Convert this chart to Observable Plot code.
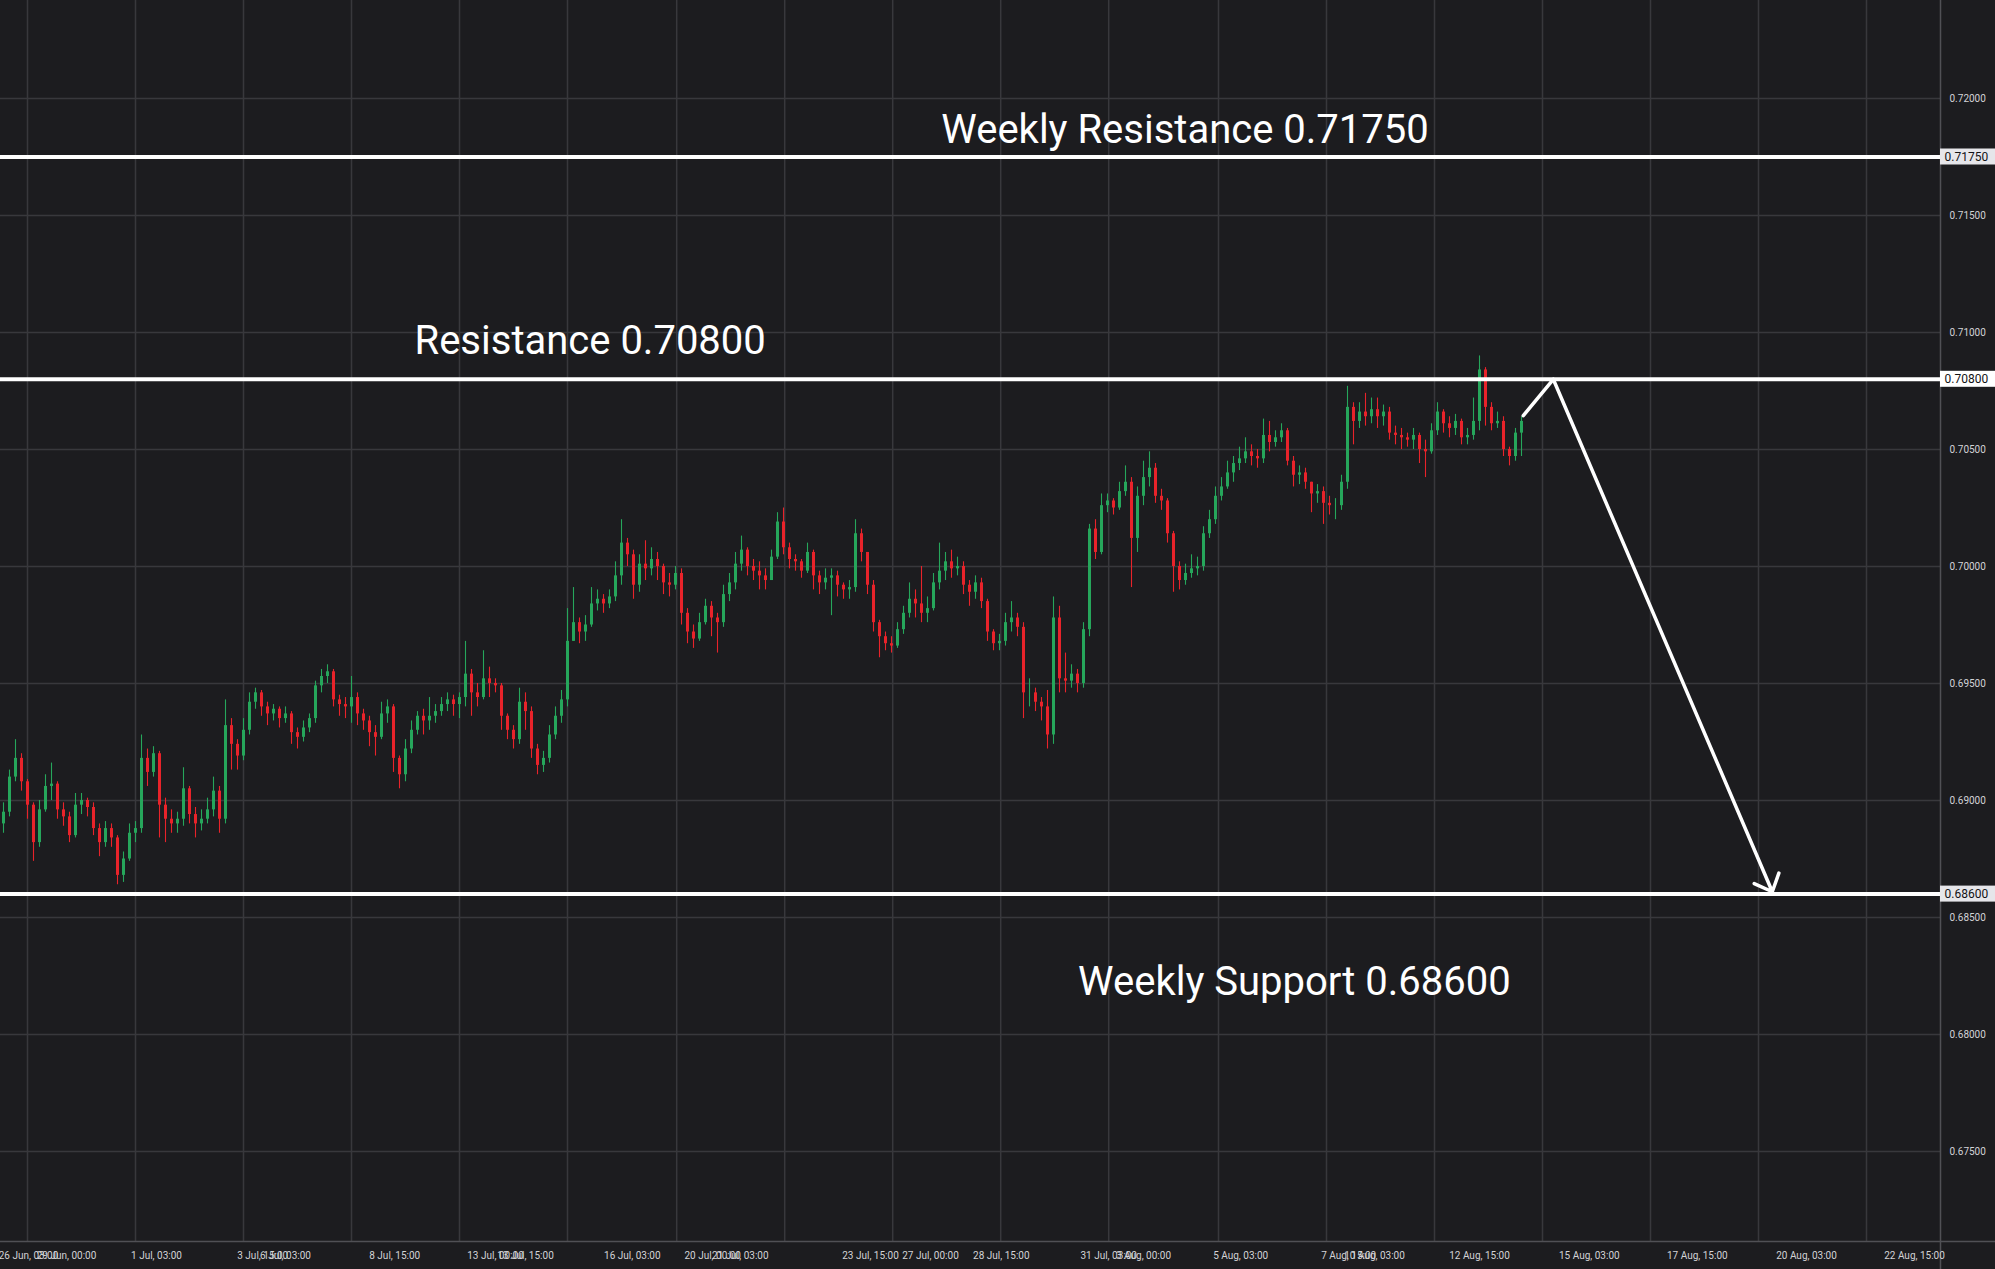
<!DOCTYPE html>
<html>
<head>
<meta charset="utf-8">
<script src="https://cdn.jsdelivr.net/npm/d3@7"></script>
<script src="https://cdn.jsdelivr.net/npm/@observablehq/plot@0.6"></script>
<style>
  html, body { margin: 0; padding: 0; background: #1c1c1f; }
  #chart { width: 1995px; height: 1269px; overflow: hidden; }
</style>
</head>
<body>
<div id="chart"></div>
<script>
// ---- Data (hourly-style candles, compressed into slots) ----
const firstOpen = 0.6890;
const closes = [
  0.6895,0.6910,0.6918,0.6908,0.6898,0.6882,0.6896,0.6906,0.6907,0.6896,
  0.6893,0.6885,0.6898,0.6900,0.6897,0.6888,0.6882,0.6888,0.6884,0.6868,
  0.6875,0.6886,0.6888,0.6918,0.6912,0.6920,0.6898,0.6892,0.6890,0.6892,
  0.6905,0.6894,0.6890,0.6892,0.6896,0.6904,0.6892,0.6932,0.6924,0.6919,
  0.6930,0.6942,0.6946,0.6940,0.6937,0.6939,0.6935,0.6937,0.6929,0.6927,
  0.6931,0.6935,0.6949,0.6953,0.6955,0.6943,0.6941,0.6940,0.6944,0.6937,
  0.6934,0.6929,0.6927,0.6937,0.6940,0.6918,0.6911,0.6922,0.6930,0.6936,
  0.6934,0.6936,0.6938,0.6941,0.6943,0.6941,0.6944,0.6954,0.6946,0.6944,
  0.6952,0.6950,0.6949,0.6936,0.6930,0.6926,0.6942,0.6938,0.6922,0.6915,
  0.6918,0.6928,0.6936,0.6943,0.6968,0.6976,0.6972,0.6975,0.6984,0.6986,
  0.6984,0.6987,0.6996,0.7010,0.7005,0.6992,0.7001,0.6999,0.7003,0.7000,
  0.6993,0.6992,0.6997,0.6980,0.6972,0.6969,0.6976,0.6983,0.6978,0.6976,
  0.6988,0.6993,0.7001,0.7007,0.7000,0.6998,0.6996,0.6994,0.7004,0.7019,
  0.7008,0.7003,0.7002,0.6998,0.7006,0.6996,0.6993,0.6995,0.6996,0.6992,
  0.6990,0.6991,0.7014,0.7006,0.6992,0.6976,0.6970,0.6967,0.6966,0.6973,
  0.6980,0.6986,0.6984,0.6980,0.6982,0.6993,0.6998,0.7002,0.6999,0.7000,
  0.6992,0.6989,0.6993,0.6985,0.6972,0.6967,0.6968,0.6976,0.6978,0.6974,
  0.6946,0.6946,0.6942,0.6940,0.6928,0.6978,0.6952,0.6951,0.6954,0.6950,
  0.6973,0.7016,0.7006,0.7026,0.7028,0.7025,0.7032,0.7036,0.7012,0.7030,
  0.7038,0.7042,0.7030,0.7028,0.7014,0.7000,0.6994,0.6997,0.6999,0.7000,
  0.7014,0.7020,0.7030,0.7034,0.7040,0.7044,0.7046,0.7049,0.7047,0.7046,
  0.7056,0.7053,0.7055,0.7058,0.7045,0.7039,0.7040,0.7036,0.7031,0.7032,
  0.7027,0.7026,0.7026,0.7036,0.7068,0.7062,0.7066,0.7064,0.7067,0.7064,
  0.7066,0.7057,0.7056,0.7055,0.7054,0.7056,0.7050,0.7049,0.7058,0.7066,
  0.7061,0.7059,0.7062,0.7055,0.7056,0.7062,0.7084,0.7068,0.7061,0.7062,
  0.7050,0.7047,0.7057,0.7062
];
const highs = [
  0.6899,0.6913,0.6926,0.6920,0.6909,0.6899,0.6900,0.6911,0.6916,0.6908,
  0.6899,0.6895,0.6903,0.6903,0.6901,0.6899,0.6890,0.6891,0.6890,0.6885,
  0.6878,0.6890,0.6891,0.6928,0.6922,0.6923,0.6921,0.6901,0.6896,0.6895,
  0.6914,0.6906,0.6897,0.6896,0.6901,0.6910,0.6906,0.6943,0.6935,0.6926,
  0.6935,0.6946,0.6948,0.6947,0.6942,0.6941,0.6940,0.6940,0.6938,0.6931,
  0.6934,0.6937,0.6951,0.6956,0.6958,0.6956,0.6945,0.6944,0.6953,0.6946,
  0.6939,0.6936,0.6932,0.6942,0.6943,0.6941,0.6919,0.6926,0.6934,0.6938,
  0.6939,0.6944,0.6941,0.6944,0.6946,0.6945,0.6946,0.6968,0.6956,0.6950,
  0.6964,0.6957,0.6952,0.6950,0.6937,0.6932,0.6948,0.6946,0.6940,0.6924,
  0.6921,0.6932,0.6940,0.6947,0.6982,0.6991,0.6978,0.6979,0.6991,0.6990,
  0.6988,0.6990,0.7002,0.7020,0.7012,0.7007,0.7005,0.7011,0.7008,0.7006,
  0.7001,0.6997,0.7000,0.6999,0.6982,0.6975,0.6980,0.6986,0.6985,0.6980,
  0.6992,0.6997,0.7006,0.7013,0.7008,0.7003,0.7002,0.6999,0.7007,0.7023,
  0.7025,0.7010,0.7005,0.7003,0.7010,0.7007,0.6998,0.6999,0.6999,0.6998,
  0.6993,0.6994,0.7020,0.7016,0.7006,0.6994,0.6977,0.6972,0.6970,0.6976,
  0.6983,0.6993,0.6990,0.7000,0.6987,0.6997,0.7010,0.7006,0.7007,0.7004,
  0.7002,0.6994,0.6996,0.6995,0.6986,0.6973,0.6971,0.6980,0.6985,0.6980,
  0.6976,0.6952,0.6948,0.6944,0.6947,0.6987,0.6983,0.6963,0.6958,0.6956,
  0.6976,0.7018,0.7020,0.7031,0.7031,0.7029,0.7036,0.7043,0.7038,0.7034,
  0.7045,0.7049,0.7044,0.7033,0.7029,0.7015,0.7002,0.7001,0.7005,0.7004,
  0.7017,0.7024,0.7034,0.7038,0.7045,0.7047,0.7051,0.7055,0.7052,0.7050,
  0.7063,0.7062,0.7058,0.7061,0.7059,0.7047,0.7043,0.7042,0.7036,0.7035,
  0.7034,0.7030,0.7029,0.7039,0.7077,0.7070,0.7070,0.7074,0.7072,0.7072,
  0.7069,0.7068,0.7060,0.7059,0.7057,0.7059,0.7057,0.7054,0.7061,0.7070,
  0.7067,0.7064,0.7065,0.7063,0.7059,0.7072,0.7090,0.7085,0.7070,0.7066,
  0.7064,0.7051,0.7059,0.7064
];
const lows = [
  0.6886,0.6893,0.6908,0.6904,0.6892,0.6874,0.6880,0.6895,0.6900,0.6892,
  0.6889,0.6882,0.6884,0.6894,0.6893,0.6885,0.6876,0.6880,0.6880,0.6864,
  0.6865,0.6874,0.6882,0.6886,0.6906,0.6910,0.6884,0.6882,0.6886,0.6886,
  0.6889,0.6890,0.6884,0.6887,0.6890,0.6893,0.6886,0.6890,0.6913,0.6913,
  0.6917,0.6928,0.6939,0.6936,0.6932,0.6934,0.6931,0.6933,0.6924,0.6922,
  0.6925,0.6929,0.6933,0.6946,0.6950,0.6940,0.6936,0.6935,0.6933,0.6932,
  0.6930,0.6923,0.6919,0.6926,0.6933,0.6912,0.6905,0.6908,0.6920,0.6928,
  0.6928,0.6930,0.6933,0.6936,0.6938,0.6936,0.6935,0.6940,0.6936,0.6940,
  0.6943,0.6944,0.6946,0.6930,0.6926,0.6922,0.6924,0.6930,0.6918,0.6911,
  0.6912,0.6916,0.6926,0.6933,0.6940,0.6968,0.6967,0.6968,0.6974,0.6981,
  0.6980,0.6982,0.6985,0.6992,0.7000,0.6986,0.6989,0.6994,0.6996,0.6994,
  0.6988,0.6987,0.6990,0.6975,0.6967,0.6965,0.6968,0.6975,0.6970,0.6963,
  0.6974,0.6985,0.6990,0.6998,0.6996,0.6994,0.6990,0.6990,0.6995,0.7003,
  0.7005,0.6999,0.6998,0.6995,0.6997,0.6990,0.6988,0.6990,0.6979,0.6987,
  0.6986,0.6986,0.6989,0.7002,0.6988,0.6972,0.6961,0.6964,0.6963,0.6965,
  0.6971,0.6978,0.6978,0.6976,0.6976,0.6981,0.6990,0.6994,0.6995,0.6996,
  0.6988,0.6983,0.6986,0.6982,0.6968,0.6964,0.6964,0.6966,0.6972,0.6970,
  0.6935,0.6940,0.6938,0.6934,0.6922,0.6924,0.6946,0.6946,0.6948,0.6946,
  0.6948,0.6970,0.7003,0.7005,0.7023,0.7022,0.7024,0.7030,0.6991,0.7006,
  0.7026,0.7034,0.7027,0.7024,0.7010,0.6989,0.6990,0.6992,0.6995,0.6996,
  0.6998,0.7012,0.7018,0.7028,0.7033,0.7036,0.7041,0.7044,0.7043,0.7042,
  0.7044,0.7049,0.7051,0.7053,0.7043,0.7034,0.7035,0.7033,0.7023,0.7027,
  0.7018,0.7022,0.7020,0.7024,0.7033,0.7052,0.7059,0.7060,0.7061,0.7059,
  0.7060,0.7054,0.7052,0.7050,0.7051,0.7050,0.7044,0.7038,0.7048,0.7056,
  0.7057,0.7055,0.7056,0.7052,0.7052,0.7054,0.7058,0.7060,0.7058,0.7059,
  0.7047,0.7043,0.7045,0.7047
];

// Price axis ticks and key levels
const priceTicks = [0.675, 0.68, 0.685, 0.69, 0.695, 0.70, 0.705, 0.71, 0.715, 0.72];
const levels = [0.7175, 0.7080, 0.6860];
const levelLabels = ["0.71750", "0.70800", "0.68600"];
const levelBoxFill = ["#e6e6ea", "#ffffff", "#e6e6ea"];

// Annotation texts (x in candle slots, y in price)
const notes = [
  {x: 156.8, y: 0.71865, text: "Weekly Resistance 0.71750"},
  {x: 69.0,  y: 0.70962, text: "Resistance 0.70800"},
  {x: 179.6, y: 0.68222, text: "Weekly Support 0.68600"}
];

// Projection arrow (slot, price)
const arrowPath = [
  {x: 253.8, y: 0.70645},
  {x: 258.8, y: 0.70800},
  {x: 295.3, y: 0.68610}
];

// Time axis: vertical grid positions and label positions (in candle slots)
const gridSlots = [4.5, 22.5, 40.5, 58.5, 76.5, 94.5, 112.7, 130.7, 148.7, 166.7, 184.7, 203, 221, 239, 257, 275, 293, 311];
const timeTickSlots = [4.67, 11, 26, 43.7, 47.5, 65.7, 82.5, 87.5, 105.3, 118.7, 123.3, 145, 155, 166.8, 184.7, 190.5, 206.7, 224.7, 229, 246.5, 264.8, 282.8, 301, 319];
const timeTickLabels = ["26 Jun, 03:00", "29 Jun, 00:00", "1 Jul, 03:00", "3 Jul, 15:00", "6 Jul, 03:00", "8 Jul, 15:00",
  "13 Jul, 00:00", "13 Jul, 15:00", "16 Jul, 03:00", "20 Jul, 00:00", "21 Jul, 03:00", "23 Jul, 15:00", "27 Jul, 00:00",
  "28 Jul, 15:00", "31 Jul, 03:00", "3 Aug, 00:00", "5 Aug, 03:00", "7 Aug, 15:00", "10 Aug, 03:00", "12 Aug, 15:00",
  "15 Aug, 03:00", "17 Aug, 15:00", "20 Aug, 03:00", "22 Aug, 15:00"];

// ---- Build table ----
const candles = closes.map((c, i) => ({
  slot: i + 0.5,
  open: i === 0 ? firstOpen : closes[i - 1],
  high: highs[i],
  low: lows[i],
  close: c
}));
const levelRows = levels.map((p, i) => ({price: p, label: levelLabels[i], fill: levelBoxFill[i]}));

const W = 1995, H = 1269, mRight = 55, mBottom = 28;
const xMax = 1940 / 6;          // plot area right edge in slots
const xOuter = W / 6;           // right edge of page in slots
const yDomain = [0.671154, 0.724188];
const pxPerPrice = (H - mBottom) / (yDomain[1] - yDomain[0]);
const yBelow = yDomain[0] - mBottom / pxPerPrice;
const boxHalf = 8 / pxPerPrice;

const up = "#26a65b", down = "#e8232a";
const colorOf = d => d.close >= d.open ? up : down;

const chart = Plot.plot({
  width: W,
  height: H,
  marginLeft: 0,
  marginRight: mRight,
  marginTop: 0,
  marginBottom: mBottom,
  style: {background: "#1c1c1f", color: "#d3d3d6", fontFamily: "Roboto, 'Noto Sans', sans-serif"},
  x: {domain: [0, xMax]},
  y: {domain: yDomain},
  marks: [
    Plot.gridY(priceTicks, {stroke: "#38383c", strokeOpacity: 1, strokeWidth: 1.5}),
    Plot.gridX(gridSlots, {stroke: "#38383c", strokeOpacity: 1, strokeWidth: 1.5}),
    // frame lines of the price and time scales
    Plot.ruleX([xMax], {y1: yDomain[1], y2: yBelow, stroke: "#505055", strokeWidth: 1.5}),
    Plot.ruleY([yDomain[0]], {x1: 0, x2: xOuter, stroke: "#505055", strokeWidth: 1.5}),
    // candles
    Plot.ruleX(candles, {x: "slot", y1: "low", y2: "high", stroke: colorOf, strokeWidth: 1.1}),
    Plot.ruleX(candles, {x: "slot", y1: "open", y2: "close", stroke: colorOf, strokeWidth: 3}),
    // key levels
    Plot.ruleY(levelRows, {y: "price", stroke: "#ffffff", strokeWidth: 4}),
    Plot.rect(levelRows, {x1: xMax, x2: xOuter, y1: d => d.price - boxHalf, y2: d => d.price + boxHalf, fill: "fill"}),
    Plot.text(levelRows, {x: xMax, y: "price", text: "label", textAnchor: "start", dx: 4, fill: "#131316", fontSize: 12}),
    // projection arrow
    Plot.line(arrowPath.slice(0, 2), {x: "x", y: "y", stroke: "#ffffff", strokeWidth: 3.5}),
    Plot.arrow([{x1: arrowPath[1].x, y1: arrowPath[1].y, x2: arrowPath[2].x, y2: arrowPath[2].y}],
      {x1: "x1", y1: "y1", x2: "x2", y2: "y2", stroke: "#ffffff", strokeWidth: 3.5, headLength: 8.5, headAngle: 85}),
    // annotations
    Plot.text(notes, {x: "x", y: "y", text: "text", textAnchor: "start", lineAnchor: "middle", fill: "#ffffff", fontSize: 40}),
    // axes
    Plot.axisY(priceTicks, {anchor: "right", tickSize: 0, tickPadding: 9, fontSize: 10, label: null, tickFormat: d3.format(".5f")}),
    Plot.axisX(timeTickSlots, {anchor: "bottom", tickSize: 0, tickPadding: 10, fontSize: 10, label: null, tickFormat: (d, i) => timeTickLabels[i]})
  ]
});
document.getElementById("chart").appendChild(chart);
</script>
</body>
</html>
